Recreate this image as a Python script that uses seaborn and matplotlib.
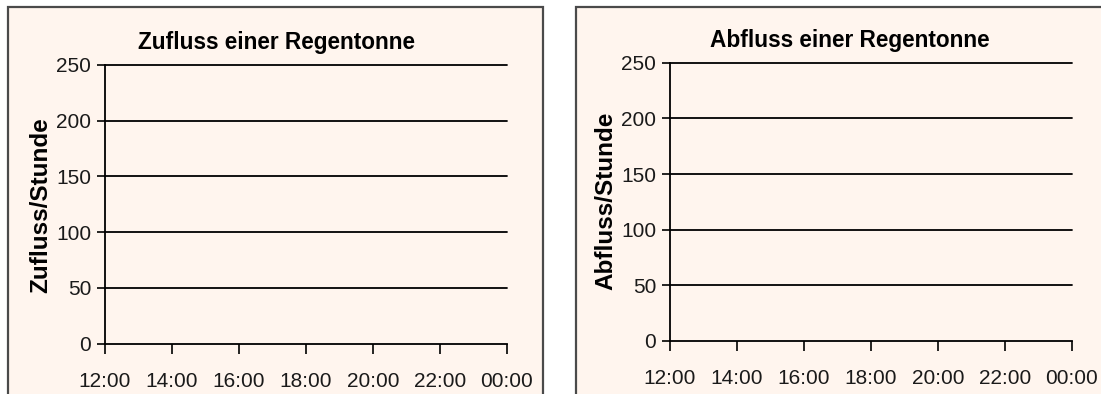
import matplotlib
matplotlib.use("Agg")
import matplotlib.pyplot as plt
from matplotlib import font_manager
from matplotlib.patches import Rectangle
import seaborn as sns
import pandas as pd

# Hourly time axis and value scale shared by both charts
hours = [12, 14, 16, 18, 20, 22, 24]
time_labels = ["12:00", "14:00", "16:00", "18:00", "20:00", "22:00", "00:00"]
y_ticks = [0, 50, 100, 150, 200, 250]

# Series (no measurements entered yet)
zufluss_hours = []
zufluss_values = []
abfluss_hours = []
abfluss_values = []

titles = ["Zufluss einer Regentonne", "Abfluss einer Regentonne"]
ylabels = ["Zufluss/Stunde", "Abfluss/Stunde"]

sns.set_theme(style="white")


def pick(*names):
    available = {f.name for f in font_manager.fontManager.ttflist}
    for n in names:
        if n in available:
            return n
    return "DejaVu Sans"


narrow = pick("Liberation Sans Narrow", "Liberation Sans", "Arial")
regular = pick("Liberation Sans", "Arial")
plt.rcParams["font.family"] = [narrow, "DejaVu Sans"]
is_narrow = narrow == "Liberation Sans Narrow"

tick_size = 16 if is_narrow else 15
title_size = 18 if is_narrow else 16.3

BG = "#FFF5EE"
W, H = 1101, 394
fig = plt.figure(figsize=(W / 100, H / 100), dpi=100)
fig.patch.set_facecolor("white")

# Chart panels (the second one runs past the right edge, both past the bottom)
fig.add_artist(Rectangle((8 / W, -0.05), (543 - 8) / W, 1.05 - 7 / H,
                         transform=fig.transFigure, facecolor=BG,
                         edgecolor="#4a4a4a", linewidth=1.6, zorder=0))
fig.add_artist(Rectangle((576 / W, -0.05), 0.5, 1.05 - 7 / H,
                         transform=fig.transFigure, facecolor=BG,
                         edgecolor="#4a4a4a", linewidth=1.6, zorder=0))

axes_px = [(105, 507, 65, 343.5), (670, 1072, 62.7, 341)]
title_pos = [(276, 42), (850, 40)]
ylabel_pos = [(40.5, 205), (606, 201)]
series = [(zufluss_hours, zufluss_values), (abfluss_hours, abfluss_values)]

for i, (x0, x1, yt, yb) in enumerate(axes_px):
    ax = fig.add_axes([x0 / W, (H - yb) / H, (x1 - x0) / W, (yb - yt) / H])
    ax.set_facecolor("none")
    xs, ys = series[i]
    df = pd.DataFrame({"Uhrzeit": pd.Series(xs, dtype=float),
                       "Menge": pd.Series(ys, dtype=float)})
    if len(df):
        sns.lineplot(data=df, x="Uhrzeit", y="Menge", ax=ax, color="black")
    ax.set_xlim(12, 24)
    ax.set_ylim(0, 250)
    ax.set_xticks(hours)
    ax.set_xticklabels(time_labels)
    ax.set_yticks(y_ticks)
    ax.set_yticklabels([str(v) for v in y_ticks])
    ax.set_xlabel("")
    ax.set_ylabel("")
    for s in ["top", "right"]:
        ax.spines[s].set_visible(False)
    for s in ["left", "bottom"]:
        ax.spines[s].set_visible(True)
        ax.spines[s].set_color("black")
        ax.spines[s].set_linewidth(1.3)
    ax.grid(False)
    for v in y_ticks[1:]:
        ax.axhline(v, color="black", linewidth=1.3, zorder=1, clip_on=False)
    ax.tick_params(axis="y", direction="out", length=6, width=1.2,
                   color="black", pad=4, labelsize=tick_size,
                   labelcolor="#1a1a1a", left=True)
    ax.tick_params(axis="x", direction="out", length=7, width=1.2,
                   color="black", pad=13.5, labelsize=tick_size,
                   labelcolor="#1a1a1a", bottom=True)

    tx, ty = title_pos[i]
    fig.text(tx / W, 1 - ty / H, titles[i], ha="center", va="center",
             fontsize=title_size, fontweight="bold", color="black",
             family=[narrow, "DejaVu Sans"])
    lx, ly = ylabel_pos[i]
    fig.text(lx / W, 1 - ly / H, ylabels[i], ha="center", va="center",
             rotation=90, fontsize=17.5, fontweight="bold", color="black",
             family=[regular, "DejaVu Sans"])

fig.savefig("out.png", dpi=100, facecolor="white")
